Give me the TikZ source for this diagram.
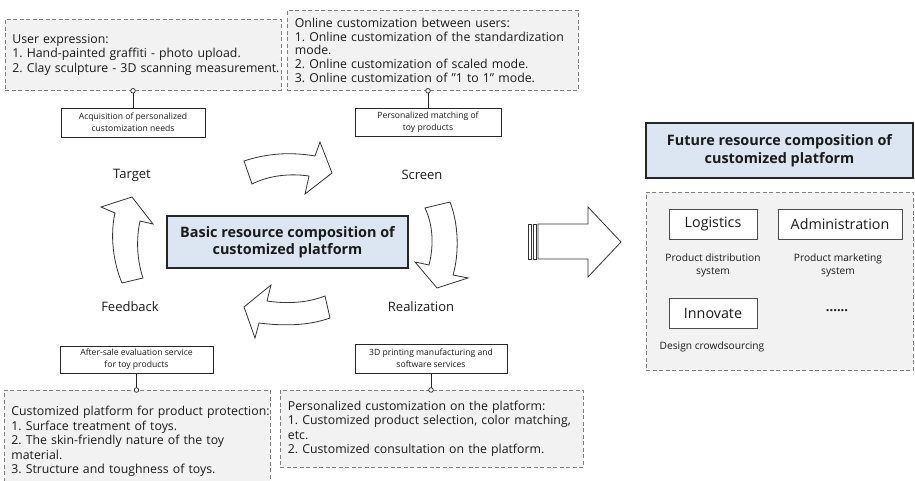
\documentclass[tikz,border=0pt]{standalone}
\usepackage{fontspec}
\setmainfont{Open Sans}
\frenchspacing
\definecolor{notefill}{HTML}{F2F2F2}
\definecolor{dashgray}{HTML}{7F7F7F}
\definecolor{hubfill}{HTML}{DCE6F2}
\definecolor{txt}{HTML}{1A1A1A}
\begin{document}
\begin{tikzpicture}[x=1pt,y=-1pt,
  note/.style={draw=dashgray, dash pattern=on 4pt off 2.5pt, line width=0.8pt,
    fill=notefill, inner xsep=7pt, inner ysep=0pt, align=left, anchor=north west,
    font=\fontsize{12.3}{14.5}\selectfont, text=txt},
  tag/.style={draw=black!85, line width=0.7pt, fill=white, align=center,
    font=\fontsize{8.6}{12}\selectfont, inner sep=0pt, text=txt},
  stage/.style={font=\fontsize{13}{15}\selectfont, text=txt},
  flow/.style={draw=black!80, line width=0.8pt, fill=white, line join=miter},
  hub/.style={draw=black!85, line width=1.2pt, fill=hubfill, align=center,
    font=\fontsize{14.4}{17.5}\selectfont\bfseries, inner sep=0pt, text=txt},
  unit/.style={draw=black!70, line width=0.7pt, fill=white,
    font=\fontsize{14.3}{16}\selectfont, inner sep=0pt, text=txt},
  caption/.style={align=center, font=\fontsize{10.2}{13}\selectfont, text=txt},
  joint/.style={draw=black!85, line width=0.9pt}
]
\useasboundingbox (0,0) rectangle (915,481);

% ---- dashed description panels ----
\node[note, minimum width=276pt, minimum height=71pt, text width=262pt] (userexp) at (5,19)
  {User expression:\\
   \mbox{1. Hand-painted graffiti - photo upload.}\\
   \mbox{2. Clay sculpture - 3D scanning measurement.}};
\node[note, minimum width=291pt, minimum height=80pt, text width=276pt, inner xsep=7.5pt,
      font=\fontsize{12.3}{13.8}\selectfont] (online) at (287,10)
  {Online customization between users:\\
   \mbox{1. Online customization of the standardization}\\
   mode.\\
   \mbox{2. Online customization of scaled mode.}\\
   \mbox{3. Online customization of "1 to 1" mode.}};
\node[note, minimum width=266pt, minimum height=102pt, text width=252pt] (protect) at (4,390)
  {\mbox{Customized platform for product protection:}\\
   1. Surface treatment of toys.\\
   \mbox{2. The skin-friendly nature of the toy}\\
   material.\\
   3. Structure and toughness of toys.};
\node[note, minimum width=303pt, minimum height=77pt, text width=288pt, inner xsep=7.5pt] (platform) at (280,390)
  {\mbox{Personalized customization on the platform:}\\
   \mbox{1. Customized product selection, color matching,}\\
   etc.\\
   \mbox{2. Customized consultation on the platform.}};

% ---- labelled tags under / above the panels ----
\node[tag, minimum width=144pt, minimum height=29pt] (need) at (133,122.5)
  {Acquisition of personalized\\customization needs};
\node[tag, minimum width=146pt, minimum height=28pt] (match) at (428,122)
  {Personalized matching of\\toy products};
\node[tag, minimum width=153pt, minimum height=27pt] (after) at (136.5,359.5)
  {After-sale evaluation service\\for toy products};
\node[tag, minimum width=152pt, minimum height=29pt] (print) at (431,358.5)
  {3D printing manufacturing and\\software services};

% ---- joints between tags and panels ----
\draw[joint] (need.north) -- (need.north |- userexp.south) coordinate (j1);
\draw[joint] (match.north) -- (match.north |- online.south) coordinate (j2);
\draw[joint] (after.south) -- (after.south |- protect.north) coordinate (j3);
\draw[joint] (print.south) -- (print.south |- platform.north) coordinate (j4);
\foreach \j in {j1,j2,j3,j4}
  \draw[joint, line width=0.7pt, fill=white] (\j) circle (2.3pt);

% ---- central hub and cycle stages ----
\node[hub, minimum width=241pt, minimum height=52pt] (hub) at (287.5,242)
  {Basic resource composition of\\customized platform};
\node[stage] (target) at (132,175) {Target};
\node[stage] (screen) at (422,175) {Screen};
\node[stage] (feedback) at (130,307) {Feedback};
\node[stage] (realize) at (421,307) {Realization};

% ---- curved block arrows of the cycle ----
% Target -> Screen
\draw[flow] (244,161) .. controls (268,153) and (292,152) .. (315,156)
  -- (320,142) -- (332,173) -- (305,194) -- (309,176)
  .. controls (288,173) and (268,176) .. (252,184) -- cycle;
% Screen -> Realization
\draw[flow] (425,208) -- (450,202) .. controls (459,225) and (459,255) .. (453,275)
  -- (468,278) -- (437,288) -- (415,262) -- (429,265)
  .. controls (434,245) and (433,225) .. (425,208) -- cycle;
% Realization -> Feedback
\draw[flow] (325,296) -- (330,318) .. controls (308,326) and (282,326) .. (259,323)
  -- (255,338) -- (244,307) -- (271,285) -- (267,301)
  .. controls (287,304) and (307,303) .. (325,296) -- cycle;
% Feedback -> Target
\draw[flow] (122,283) -- (143,278) .. controls (137,260) and (136,240) .. (140,221)
  -- (153,224) -- (132,197) -- (101,207) -- (115,213)
  .. controls (110,235) and (113,262) .. (122,283) -- cycle;

% ---- striped arrow towards the future composition ----
\draw[flow, line width=0.7pt] (528,224) rectangle (531,259);
\draw[flow, line width=0.7pt] (533,224) rectangle (536,259);
\draw[flow] (538,224) -- (588,224) -- (588,207) -- (621,242) -- (588,277)
  -- (588,259) -- (538,259) -- cycle;

% ---- future resource composition ----
\node[hub, minimum width=267pt, minimum height=55pt] (future) at (779.5,150.5)
  {Future resource composition of\\customized platform};
\node[note, minimum width=267pt, minimum height=178pt] (pool) at (646,192) {};
\node[unit, minimum width=88pt, minimum height=30pt] (logi) at (713,224) {Logistics};
\node[unit, minimum width=124pt, minimum height=30pt] (admin) at (840,224) {Administration};
\node[unit, minimum width=88pt, minimum height=30pt] (innov) at (713,313) {Innovate};
\node[caption] (logicap) at (713,265.5) {Product distribution\\system};
\node[caption] (admincap) at (838,265.5) {Product marketing\\system};
\node[caption, font=\fontsize{13}{14}\selectfont\bfseries] (more) at (837,311) {......};
\node[caption] (innovcap) at (712,347) {Design crowdsourcing};
\end{tikzpicture}
\end{document}
